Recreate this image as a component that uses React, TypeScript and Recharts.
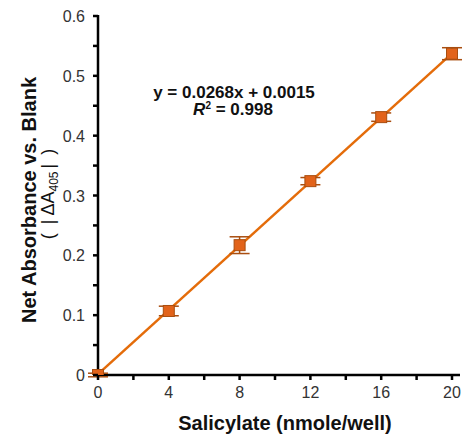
import { ComposedChart, Line, Scatter, ErrorBar, XAxis, YAxis, Label } from 'recharts'

// calibration points: nmole/well vs net absorbance
const amounts = [0, 4, 8, 12, 16, 20]
const absorbance = [0.0, 0.107, 0.217, 0.324, 0.431, 0.537]
const errors = [0.003, 0.008, 0.014, 0.006, 0.007, 0.01]

// linear fit shown on chart
const slope = 0.0268
const intercept = 0.0015
const fitRange = [0, 20]

const xTicks = [0, 2, 4, 6, 8, 10, 12, 14, 16, 18, 20]
const yTicks = [0, 0.05, 0.1, 0.15, 0.2, 0.25, 0.3, 0.35, 0.4, 0.45, 0.5, 0.55, 0.6]
const xLabels = [0, 4, 8, 12, 16, 20]
const yLabels = [0, 0.1, 0.2, 0.3, 0.4, 0.5, 0.6]

const points = amounts.map((x, i) => ({ x, y: absorbance[i], err: errors[i] }))
const fit = fitRange.map((x) => ({ x, fit: slope * x + intercept }))

const ORANGE = '#E46C0A'
const DARK = '#A94E10'
const FONT = 'Arial, "Liberation Sans", sans-serif'

const W = 464
const H = 441
const M = { top: 16, right: 12, bottom: 26, left: 38 }
const Y_W = 60
const X_H = 40
const plotL = M.left + Y_W
const plotB = H - M.bottom - X_H

const Square = (props: any) => {
  const { cx, cy } = props
  if (cx == null || cy == null) return null
  return <rect x={cx - 5.5} y={cy - 5.5} width={11} height={11} fill="#E2631A" stroke={DARK} strokeWidth={1} />
}

const XTick = (props: any) => {
  const { x, y, payload } = props
  const ay = y - 8
  return (
    <g>
      <line x1={x} x2={x} y1={ay} y2={ay + 5} stroke="#000" strokeWidth={2.5} />
      {xLabels.includes(payload.value) && (
        <text x={x} y={y} dy={15} textAnchor="middle" fontSize={16} fill="#333" fontFamily={FONT}>
          {payload.value}
        </text>
      )}
    </g>
  )
}

const YTick = (props: any) => {
  const { x, y, payload } = props
  const ax = x + 13
  const v = Math.round(payload.value * 100) / 100
  const show = yLabels.some((l) => Math.abs(l - v) < 1e-6)
  return (
    <g>
      <line x1={ax - 5} x2={ax} y1={y} y2={y} stroke="#000" strokeWidth={2.5} />
      {show && (
        <text x={x} y={y} dy={6} textAnchor="end" fontSize={16} fill="#333" fontFamily={FONT}>
          {v === 0 ? '0' : v.toFixed(1)}
        </text>
      )}
    </g>
  )
}

const YTitle = () => (
  <g fontFamily={FONT} fill="#111">
    <text x={0} y={0} transform="translate(36, 200) rotate(-90)" textAnchor="middle" fontSize={20} fontWeight="bold">
      Net Absorbance vs. Blank
    </text>
    <text x={0} y={0} transform="translate(54, 194) rotate(-90)" textAnchor="middle" fontSize={18}>
      (<tspan dx={9}>|</tspan><tspan dx={4}>ΔA</tspan><tspan fontSize={12} dy={4}>405</tspan>
      <tspan dy={-4} dx={3}>|</tspan><tspan dx={9}>)</tspan>
    </text>
  </g>
)

export default function App() {
  return (
    <div style={{ position: 'absolute', left: 0, top: 0, width: W, height: H, background: '#fff' }}>
      {/* thick axis lines underneath the chart */}
      <svg width={W} height={H} style={{ position: 'absolute', left: 0, top: 0 }}>
        <line x1={plotL - 1} x2={W - 4} y1={plotB} y2={plotB} stroke="#000" strokeWidth={2.5} />
        <line x1={plotL} x2={plotL} y1={M.top - 1} y2={plotB + 1} stroke="#000" strokeWidth={2.5} />
      </svg>
      <ComposedChart width={W} height={H} margin={M}>
        <XAxis
          dataKey="x"
          type="number"
          domain={[0, 20]}
          ticks={xTicks}
          interval={0}
          tick={<XTick />}
          tickSize={5}
          tickMargin={3}
          tickLine={false}
          axisLine={false}
          height={X_H}
        >
          <Label value="Salicylate (nmole/well)" position="bottom" offset={0} dx={10} dy={1} fontSize={20} fontWeight="bold" fill="#111" fontFamily={FONT} />
        </XAxis>
        <YAxis
          type="number"
          domain={[0, 0.6]}
          ticks={yTicks}
          interval={0}
          tick={<YTick />}
          tickSize={5}
          tickMargin={8}
          tickLine={false}
          axisLine={false}
          width={Y_W}
          allowDataOverflow
        >
          <Label content={<YTitle />} />
        </YAxis>
        <Line data={fit} dataKey="fit" stroke={ORANGE} strokeWidth={2.5} dot={false} isAnimationActive={false} />
        <Scatter data={points} dataKey="y" shape={<Square />} isAnimationActive={false}>
          <ErrorBar dataKey="err" direction="y" width={10} stroke={DARK} strokeWidth={1.5} />
        </Scatter>
      </ComposedChart>
      <svg width={W} height={H} style={{ position: 'absolute', left: 0, top: 0, pointerEvents: 'none' }}>
        <g fontFamily={FONT} fontSize={17} fontWeight="bold" fill="#111" textAnchor="middle">
          <text x={234} y={98}>y = 0.0268x + 0.0015</text>
          <text x={233} y={115}>
            <tspan fontStyle="italic">R</tspan>
            <tspan fontSize={10} dy={-6}>2</tspan>
            <tspan dy={6}> = 0.998</tspan>
          </text>
        </g>
      </svg>
    </div>
  )
}
